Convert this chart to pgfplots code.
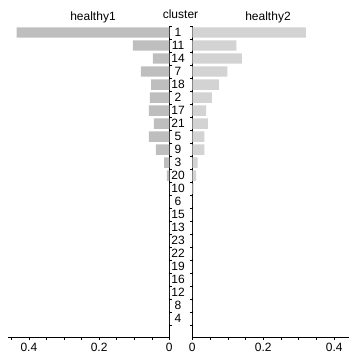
\documentclass[border=0pt]{standalone}
\usepackage{pgfplots}
\pgfplotsset{compat=1.18}
\usepackage{fontspec}
\setmainfont{Liberation Sans}
\definecolor{barL}{RGB}{190,190,190}
\definecolor{barR}{RGB}{211,211,211}
\begin{document}
\begin{tikzpicture}[x=1pt,y=1pt]
\path (0,0) rectangle (349,356);
\pgfplotsset{
  pyr/.style={
    scale only axis, anchor=south west,
    height=311pt,
    ymin=0.5, ymax=24.4, y dir=reverse,
    xmin=0,
    xtick={0,0.2,0.4},
    minor xtick={0.05,0.1,0.15,0.25,0.3,0.35,0.45},
    ytick={1,...,23},
    minor ytick={0.5,1.5,...,23.5},
    tick align=outside,
    major tick length=3pt, minor tick length=2.5pt,
    major y tick style={draw=none},
    tick style={black, line width=0.5pt},
    axis line style={black, line width=0.7pt},
    /pgf/number format/assume math mode=true,
    ticklabel style={font=\fontsize{12}{14}\selectfont},
    clip=false,
  }
}
\begin{axis}[pyr, at={(8.3pt,19pt)}, width=161pt, xmax=0.4587, x dir=reverse,
  axis x line*=bottom, axis y line*=right, yticklabels={}]
\addplot[xbar, bar width=0.8, fill=barL, draw=none] coordinates {
(0.435,1) (0.104,2) (0.047,3) (0.081,4) (0.052,5) (0.055,6) (0.058,7) (0.044,8)
(0.058,9) (0.038,10) (0.015,11) (0.0066,12) (0,13) (0,14) (0,15) (0,16) (0,17)
(0,18) (0,19) (0,20) (0,21) (0,22) (0,23)};
\end{axis}
\begin{axis}[pyr, at={(192.3pt,19pt)}, width=156.7pt, xmax=0.4418,
  axis x line*=bottom, axis y line*=left,
  yticklabels={1,11,14,7,18,2,17,21,5,9,3,20,10,6,15,13,23,22,19,16,12,8,4},
  yticklabel style={anchor=center, xshift=-11.3pt, inner sep=0pt}]
\addplot[xbar, bar width=0.8, fill=barR, draw=none] coordinates {
(0.320,1) (0.124,2) (0.140,3) (0.099,4) (0.075,5) (0.055,6) (0.039,7) (0.044,8)
(0.034,9) (0.034,10) (0.015,11) (0.011,12) (0.004,13) (0,14) (0,15) (0,16) (0,17)
(0,18) (0,19) (0,20) (0,21) (0,22) (0,23)};
\end{axis}
\node[font=\fontsize{12}{14}\selectfont] at (93,339) {healthy1};
\node[font=\fontsize{12}{14}\selectfont] at (180.5,342) {cluster};
\node[font=\fontsize{12}{14}\selectfont] at (268,339) {healthy2};
\end{tikzpicture}
\end{document}
